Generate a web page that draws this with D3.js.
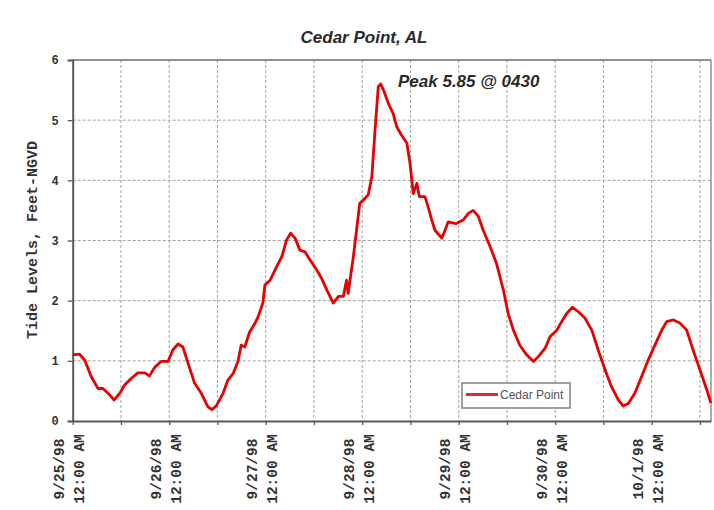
<!DOCTYPE html>
<html>
<head>
<meta charset="utf-8">
<script src="https://cdn.jsdelivr.net/npm/d3@7"></script>
<style>
  html, body { margin: 0; padding: 0; background: #ffffff; }
  svg { display: block; }
</style>
</head>
<body>
<svg id="chart" width="714" height="510"></svg>
<script>
// ---- data (hours since 9/25/98 12:00 AM, tide level in feet NGVD) ----
const hours = [0, 1.7, 3.0, 4.6, 6.3, 7.5, 8.8, 10.3, 11.7, 12.9, 14.6, 16.2, 17.9, 19.1, 20.5, 22.0, 23.7,
  24.9, 26.2, 27.4, 28.7, 30.3, 32.0, 33.6, 34.6, 35.7, 37.4, 38.6, 39.9, 41.1, 41.9, 42.8, 44.0, 45.3, 46.1, 47.3,
  47.8, 49.1, 50.7, 52.0, 53.2, 54.2, 55.3, 56.5, 57.8, 59.0, 60.7, 61.9, 63.2, 64.8, 66.1, 67.3, 68.1, 68.5, 69.8,
  71.4, 72.7, 73.5, 74.4, 75.2, 76.0, 76.6, 77.3, 78.5, 79.7, 80.6, 81.8, 83.1, 83.9, 84.7, 85.6, 86.2, 87.6, 88.4,
  89.3, 90.1, 91.8, 92.6, 93.4, 95.3, 97.1, 98.4, 99.6, 100.9, 102.1, 103.8, 105.4, 107.1, 108.3, 109.6, 111.2,
  112.9, 114.6, 115.8, 117.5, 118.7, 120.4, 121.6, 122.9, 124.3, 125.7, 127.4, 129.1, 130.7, 132.4, 134.0, 135.7,
  136.9, 138.2, 139.8, 141.5, 143.1, 144.8, 146.5, 147.7, 149.4, 151.0, 152.7, 154.3, 156.0, 157.7, 158.7];
const levels = [1.10, 1.11, 1.01, 0.74, 0.54, 0.54, 0.46, 0.35, 0.46, 0.60, 0.71, 0.80, 0.80, 0.75, 0.90, 0.99, 0.99,
  1.18, 1.28, 1.23, 0.96, 0.63, 0.46, 0.24, 0.19, 0.25, 0.46, 0.68, 0.79, 0.99, 1.26, 1.23, 1.48, 1.62, 1.73, 1.96,
  2.26, 2.34, 2.56, 2.73, 3.01, 3.12, 3.04, 2.84, 2.81, 2.68, 2.51, 2.37, 2.18, 1.96, 2.07, 2.07, 2.34, 2.12, 2.73,
  3.62, 3.70, 3.76, 4.06, 4.84, 5.56, 5.60, 5.50, 5.28, 5.11, 4.89, 4.75, 4.62, 4.28, 3.78, 3.95, 3.73, 3.73, 3.56,
  3.34, 3.17, 3.04, 3.17, 3.31, 3.28, 3.34, 3.45, 3.50, 3.40, 3.17, 2.90, 2.62, 2.18, 1.79, 1.51, 1.26,
  1.10, 0.99, 1.07, 1.21, 1.40, 1.51, 1.65, 1.79, 1.89, 1.82, 1.71, 1.51, 1.18, 0.85, 0.57, 0.35,
  0.25, 0.29, 0.46, 0.74, 1.01, 1.26, 1.51, 1.65, 1.68, 1.63, 1.51, 1.18, 0.85, 0.52, 0.30];

const tickHours = [0, 12, 24, 36, 48, 60, 72, 84, 96, 108, 120, 132, 144, 156];
const labelHours = [0, 24, 48, 72, 96, 120, 144];
const dateLabels = ["9/25/98", "9/26/98", "9/27/98", "9/28/98", "9/29/98", "9/30/98", "10/1/98"];
const timeLabel = "12:00 AM";
const yTicks = [0, 1, 2, 3, 4, 5, 6];

const titleText = "Cedar Point, AL";
const yTitle = "Tide Levels, Feet-NGVD";
const seriesName = "Cedar Point";
const peakNote = "Peak 5.85 @ 0430";

// ---- layout ----
const svg = d3.select("#chart");
const L = 72.7, R = 711, T = 60, B = 421;
const x = d3.scaleLinear().domain([0, 158.75]).range([L, R]);
const y = d3.scaleLinear().domain([0, 6]).range([B, T]);

const data = hours.map((h, i) => ({ h, v: levels[i] }));

// grid
const grid = svg.append("g");
grid.selectAll("line.v").data(tickHours.filter(h => h > 0)).join("line")
  .attr("x1", d => x(d)).attr("x2", d => x(d)).attr("y1", T).attr("y2", B)
  .attr("stroke", "#a0a0a0").attr("stroke-width", 1).attr("stroke-dasharray", "3,2");
grid.selectAll("line.h").data(yTicks.filter(v => v > 0 && v < 6)).join("line")
  .attr("x1", L).attr("x2", R).attr("y1", d => y(d)).attr("y2", d => y(d))
  .attr("stroke", "#a0a0a0").attr("stroke-width", 1).attr("stroke-dasharray", "3,2");

// frame (top, right)
svg.append("line").attr("x1", L).attr("x2", R).attr("y1", T).attr("y2", T)
  .attr("stroke", "#6a6a6a").attr("stroke-width", 1.6);
svg.append("line").attr("x1", R).attr("x2", R).attr("y1", T).attr("y2", B)
  .attr("stroke", "#8a8a8a").attr("stroke-width", 1.4);

// y axis
const yAxis = svg.append("g").attr("transform", `translate(${L},0)`)
  .call(d3.axisLeft(y).tickValues(yTicks).tickSize(5).tickPadding(9).tickFormat(d3.format("d")));
yAxis.select(".domain").attr("stroke", "#5a5a5a").attr("stroke-width", 2);
yAxis.selectAll(".tick line").attr("stroke", "#5a5a5a").attr("stroke-width", 1.3);
yAxis.selectAll(".tick text").attr("font-family", "'Liberation Mono', monospace")
  .attr("font-weight", "bold").attr("font-size", 12).attr("fill", "#333");

// x axis
const xAxis = svg.append("g").attr("transform", `translate(0,${B})`)
  .call(d3.axisBottom(x).tickValues(tickHours).tickSize(4).tickSizeOuter(0).tickFormat(""));
xAxis.select(".domain").attr("stroke", "#5a5a5a").attr("stroke-width", 2);
xAxis.selectAll(".tick line").attr("stroke", "#5a5a5a").attr("stroke-width", 1.3);

// x labels (two rotated lines)
const lbl = svg.append("g").attr("font-family", "'Liberation Mono', monospace")
  .attr("font-weight", "bold").attr("font-size", 14.5).attr("fill", "#333");
lbl.selectAll("text.d").data(labelHours).join("text")
  .attr("transform", d => `translate(${x(d) - 12.5},469) rotate(-90)`)
  .attr("text-anchor", "middle").attr("dominant-baseline", "central")
  .text((d, i) => dateLabels[i]);
lbl.selectAll("text.t").data(labelHours).join("text")
  .attr("transform", d => `translate(${x(d) + 7.5},469) rotate(-90)`)
  .attr("text-anchor", "middle").attr("dominant-baseline", "central")
  .text(timeLabel);

// y title
svg.append("text").attr("transform", "translate(33,240) rotate(-90)")
  .attr("text-anchor", "middle").attr("dominant-baseline", "central")
  .attr("font-family", "'Liberation Mono', monospace").attr("font-weight", "bold")
  .attr("font-size", 15).attr("fill", "#333").text(yTitle);

// series line
const line = d3.line().x(d => x(d.h)).y(d => y(d.v)).curve(d3.curveLinear);
svg.append("path").datum(data).attr("d", line)
  .attr("fill", "none").attr("stroke", "#e80000").attr("stroke-width", 2.8)
  .attr("stroke-linejoin", "round");

// title
svg.append("text").attr("x", 364).attr("y", 43).attr("text-anchor", "middle")
  .attr("font-family", "'Liberation Sans', Arial, sans-serif").attr("font-style", "italic")
  .attr("font-weight", "bold").attr("font-size", 17).attr("fill", "#2a2a2a").text(titleText);

// peak annotation
svg.append("text").attr("x", 398).attr("y", 87)
  .attr("font-family", "'Liberation Sans', Arial, sans-serif").attr("font-style", "italic")
  .attr("font-weight", "bold").attr("font-size", 17).attr("fill", "#2a2a2a").text(peakNote);

// legend
const lg = svg.append("g");
lg.append("rect").attr("x", 462).attr("y", 383).attr("width", 108).attr("height", 25)
  .attr("fill", "#fff").attr("stroke", "#888").attr("stroke-width", 1.6);
lg.append("line").attr("x1", 466).attr("x2", 498).attr("y1", 394.5).attr("y2", 394.5)
  .attr("stroke", "#d83030").attr("stroke-width", 3);
lg.append("text").attr("x", 500).attr("y", 399)
  .attr("font-family", "'Liberation Sans', Arial, sans-serif").attr("font-size", 12)
  .attr("fill", "#555").text(seriesName);
</script>
</body>
</html>
